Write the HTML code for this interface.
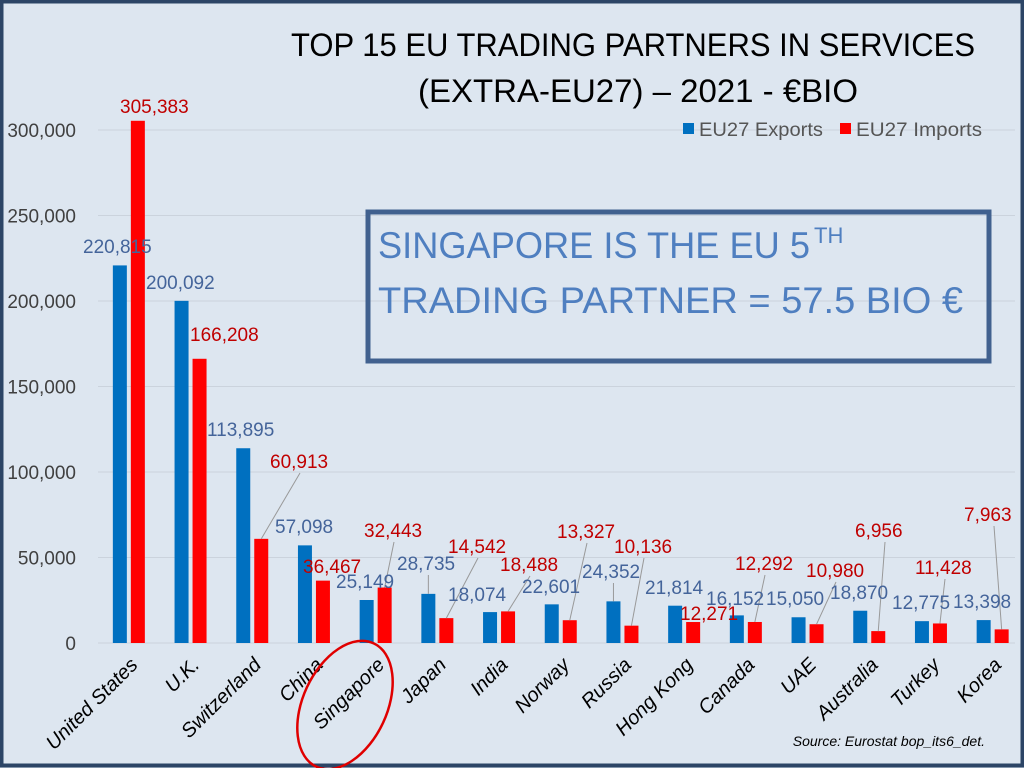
<!DOCTYPE html>
<html><head><meta charset="utf-8"><style>
html,body{margin:0;padding:0;background:#dde6f0}
svg{display:block}
</style></head><body>
<svg id="chart" width="1024" height="768" xmlns="http://www.w3.org/2000/svg" font-family="'Liberation Sans Narrow','Liberation Sans',sans-serif">
<rect x="0" y="0" width="1024" height="768" fill="#dde6f0"/>
<rect x="1.5" y="1.5" width="1021" height="764" fill="none" stroke="#2c4566" stroke-width="4"/>
<g id="grid"></g>
<g id="yaxis"></g>
<g id="bars"></g>
<g id="leaders"></g>
<g id="labels"></g>
<g id="xaxis"></g>
<text x="633" y="56" text-anchor="middle" font-size="32" fill="#000" textLength="684" lengthAdjust="spacingAndGlyphs">TOP 15 EU TRADING PARTNERS IN SERVICES</text>
<text x="638" y="102" text-anchor="middle" font-size="32" fill="#000" textLength="440" lengthAdjust="spacingAndGlyphs">(EXTRA-EU27) – 2021 - €BIO</text>
<g>
<rect x="683" y="123" width="11" height="11" fill="#0070c0"/>
<text x="699" y="136" font-size="19" fill="#555" textLength="124" lengthAdjust="spacingAndGlyphs">EU27 Exports</text>
<rect x="840" y="123" width="11" height="11" fill="#ff0000"/>
<text x="856" y="136" font-size="19" fill="#555" textLength="126" lengthAdjust="spacingAndGlyphs">EU27 Imports</text>
</g>
<g>
<rect x="368" y="212" width="621" height="149" fill="none" stroke="#41618f" stroke-width="5"/>
<text x="378" y="258" font-family="'Liberation Sans',sans-serif" font-size="37" fill="#4f7fc0" textLength="432" lengthAdjust="spacingAndGlyphs">SINGAPORE IS THE EU 5</text>
<text x="814" y="243" font-family="'Liberation Sans',sans-serif" font-size="22" fill="#4f7fc0">TH</text>
<text x="378" y="313" font-family="'Liberation Sans',sans-serif" font-size="37" fill="#4f7fc0" textLength="585" lengthAdjust="spacingAndGlyphs">TRADING PARTNER = 57.5 BIO €</text>
</g>
<ellipse cx="345" cy="705" rx="42" ry="68" transform="rotate(25 345 705)" fill="none" stroke="#e00000" stroke-width="2.5"/>
<text x="985" y="746" text-anchor="end" font-size="14" font-style="italic" fill="#000">Source: Eurostat bop_its6_det.</text>
<script>
const categories=["United States","U.K.","Switzerland","China","Singapore","Japan","India","Norway","Russia","Hong Kong","Canada","UAE","Australia","Turkey","Korea"];
const exportsVals=[220815,200092,113895,57098,25149,28735,18074,22601,24352,21814,16152,15050,18870,12775,13398];
const importsVals=[305383,166208,60913,36467,32443,14542,18488,13327,10136,12271,12292,10980,6956,11428,7963];
const yTicks=[0,50000,100000,150000,200000,250000,300000];
const yTickLabels=["0","50,000","100,000","150,000","200,000","250,000","300,000"];
// label anchor points (layout, not data): [x-left, y-center, leader?]
const expLabelPos=[[83,246,0],[146,282,0],[207,429,0],[275,526,0],[336,581,0],[397,563,1],[448,594,0],[522,586,0],[582,571,1],[645,587,0],[706,598,0],[766,598,0],[830,592,0],[892,602,0],[953,601,0]];
const impLabelPos=[[120,106,0],[190,334,0],[270,461,1],[303,566,0],[364,530,1],[448,546,1],[500,564,1],[557,531,1],[614,546,1],[680,613,0],[735,563,1],[806,570,1],[855,530,1],[915,567,1],[964,514,1]];
const NS="http://www.w3.org/2000/svg";
const y0=643,yTop=130,vMax=300000,xStart=98,band=61.7,bw=14;
const yS=v=>y0-v*(y0-yTop)/vMax;
const xC=i=>xStart+band*(i+0.5);
const fmt=v=>v.toLocaleString('en-US');
function mk(tag,attrs,parent,txt){const e=document.createElementNS(NS,tag);for(const k in attrs)e.setAttribute(k,attrs[k]);if(txt!==undefined)e.textContent=txt;document.getElementById(parent).appendChild(e);return e;}
yTicks.forEach((t,i)=>{
  const g=mk('line',{x1:98,x2:1015,y1:yS(t),y2:yS(t),stroke:'#cbd3dd','stroke-width':1},'grid');
  
  
  const l=mk('text',{x:76,y:yS(t)+7,'text-anchor':'end','font-size':19,fill:'#404040'},'yaxis',yTickLabels[i]);
  
  
});
categories.forEach((c,i)=>{
  const cx=xC(i);
  const b1=mk('rect',{x:cx-bw-2,y:yS(exportsVals[i]),width:bw,height:y0-yS(exportsVals[i]),fill:'#0070c0'},'bars');
  
  
  const b2=mk('rect',{x:cx+2,y:yS(importsVals[i]),width:bw,height:y0-yS(importsVals[i]),fill:'#ff0000'},'bars');
  
  
  const ep=expLabelPos[i],ip=impLabelPos[i];
  const t1=mk('text',{x:ep[0],y:ep[1]+7,'font-size':19,fill:'#44649a'},'labels',fmt(exportsVals[i]));
  
  
  const t2=mk('text',{x:ip[0],y:ip[1]+7,'font-size':19,fill:'#c00000'},'labels',fmt(importsVals[i]));
  
  
  if(ep[2]){const l=mk('line',{x1:cx-bw/2-2,y1:ep[1]+12,x2:cx-bw/2-2,y2:yS(exportsVals[i]),stroke:'#999','stroke-width':1},'leaders');
    
    }
  if(ip[2]){const l=mk('line',{x1:ip[0]+30,y1:ip[1]+12,x2:cx+2+bw/2,y2:yS(importsVals[i]),stroke:'#999','stroke-width':1},'leaders');
    
    }
  const ax=cx+10,ay=666;
  const xl=mk('text',{x:ax,y:ay,'text-anchor':'end','font-size':20,'font-style':'italic',fill:'#000',transform:`rotate(-45 ${ax} ${ay})`},'xaxis',c);
  
  
});
</script>
</svg>
</body></html>
